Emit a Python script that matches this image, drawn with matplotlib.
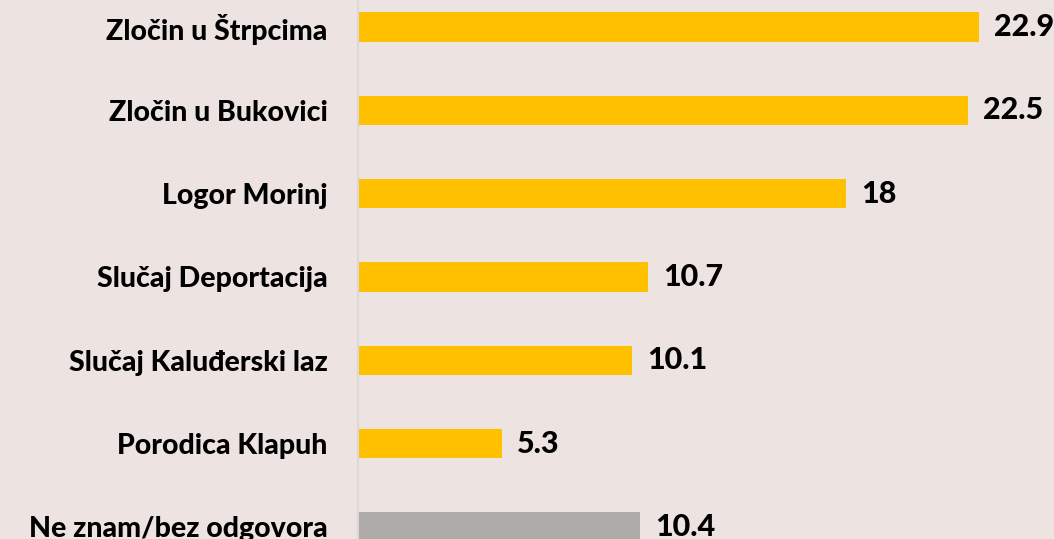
'''Horizontal bar chart: poznavanje slučajeva ratnih zločina'''
import matplotlib.pyplot as plt

categories = ['Zločin u Štrpcima', 'Zločin u Bukovici', 'Logor Morinj',
              'Slučaj Deportacija', 'Slučaj Kaluđerski laz',
              'Porodica Klapuh', 'Ne znam/bez odgovora']
values = [22.9, 22.5, 18, 10.7, 10.1, 5.3, 10.4]
value_labels = ['22.9', '22.5', '18', '10.7', '10.1', '5.3', '10.4']
colors = ['#FFC000'] * 6 + ['#AEABAA']

BG = '#EDE3E1'
plt.rcParams['font.family'] = ['Lato', 'DejaVu Sans']

fig = plt.figure(figsize=(10.54, 5.39), dpi=100, facecolor=BG)
ax = fig.add_axes([358 / 1054, 0, 677.5 / 1054, 1])
ax.set_facecolor(BG)

pos = list(range(len(categories)))
ax.barh(pos, values, height=0.35, color=colors)
ax.set_xlim(0, 25)
ax.set_ylim(6.144, -0.324)

for i, (v, lab) in enumerate(zip(values, value_labels)):
    ax.annotate(lab, (v, i), xytext=(11, 0), textcoords='offset points',
                va='center', ha='left', fontsize=22, fontweight='black',
                annotation_clip=False)

ax.set_yticks(pos)
ax.set_yticklabels(categories, fontsize=20.5, fontweight='black')
ax.tick_params(axis='y', length=0, pad=22)
ax.set_xticks([])
for side in ['top', 'right', 'bottom']:
    ax.spines[side].set_visible(False)
ax.spines['left'].set_color('#D9D9D9')
ax.spines['left'].set_linewidth(1.5)

fig.savefig('out.png', dpi=100, facecolor=BG)
